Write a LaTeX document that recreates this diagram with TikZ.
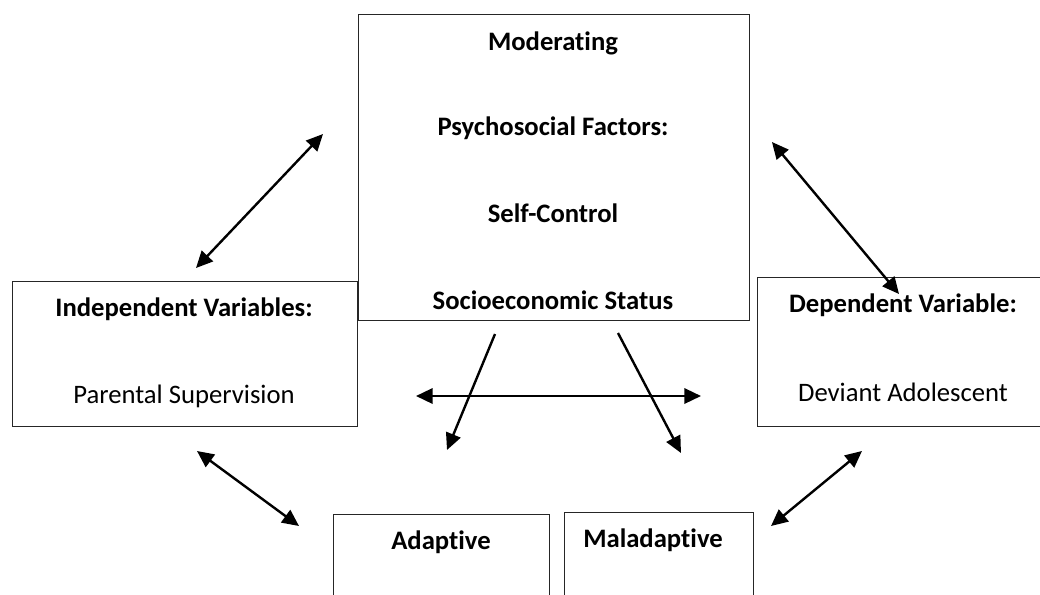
\documentclass[tikz,border=0pt]{standalone}
\usepackage{fontspec}
\setmainfont{Carlito}[Ligatures=NoCommon]
\usetikzlibrary{arrows.meta}
\begin{document}
\begin{tikzpicture}[x=0.75pt,y=-0.75pt,
  box/.style={draw=black!85,line width=0.9pt,inner sep=0pt,anchor=north west},
  lbl/.style={font=\fontsize{20}{24}\selectfont,inner sep=0pt},
  blbl/.style={lbl,font=\fontsize{20}{24}\selectfont\bfseries},
  link/.style={line width=1.8pt,-{Triangle[length=12.5pt,width=11.5pt]}},
  dlink/.style={line width=1.8pt,{Triangle[length=12.5pt,width=11.5pt]}-{Triangle[length=12.5pt,width=11.5pt]}}]
\clip (0,0) rectangle (1040,594);
\useasboundingbox (0,0) rectangle (1040,594);
\fill[white] (0,0) rectangle (1040,594);
% boxes
\node[box,minimum width=391*0.75pt,minimum height=306*0.75pt] (mod) at (357.5,14) {};
\node[box,minimum width=345*0.75pt,minimum height=145*0.75pt] (ind) at (12,281) {};
\node[box,minimum width=295*0.75pt,minimum height=149*0.75pt] (dep) at (757,277) {};
\node[box,minimum width=216*0.75pt,minimum height=120*0.75pt] (ada) at (333,514) {};
\node[box,minimum width=189*0.75pt,minimum height=120*0.75pt] (mal) at (564,512) {};
% texts
\node[blbl] (t1) at (553,43) {Moderating};
\node[blbl] (t2) at (553,128) {Psychosocial Factors:};
\node[blbl] (t3) at (553,213) {Self-Control};
\node[blbl] (t4) at (553,300) {Socioeconomic Status};
\node[blbl] (t5) at (184,309) {Independent Variables:};
\node[lbl] (t6) at (184,396) {Parental Supervision};
\node[blbl] (t7) at (903,305) {Dependent Variable:};
\node[lbl] (t8) at (903,392) {Deviant Adolescent};
\node[blbl] (t9) at (441,542) {Adaptive};
\node[blbl] (t10) at (653,540) {Maladaptive};
% connector ends
\coordinate (a1) at (196,268);
\coordinate (a2) at (323,134);
\coordinate (b1) at (772,142);
\coordinate (b2) at (899,294);
\coordinate (c1) at (416,396);
\coordinate (c2) at (701,396);
\coordinate (d1) at (495,334);
\coordinate (d2) at (447,450);
\coordinate (e1) at (618,333);
\coordinate (e2) at (681,453);
\coordinate (f1) at (197,451);
\coordinate (f2) at (299,526);
\coordinate (g1) at (862,451);
\coordinate (g2) at (771,526);
% connectors
\draw[dlink] (a1) -- (a2);
\draw[dlink] (b1) -- (b2);
\draw[dlink] (c1) -- (c2);
\draw[link] (d1) -- (d2);
\draw[link] (e1) -- (e2);
\draw[dlink] (f1) -- (f2);
\draw[dlink] (g1) -- (g2);
\end{tikzpicture}
\end{document}
